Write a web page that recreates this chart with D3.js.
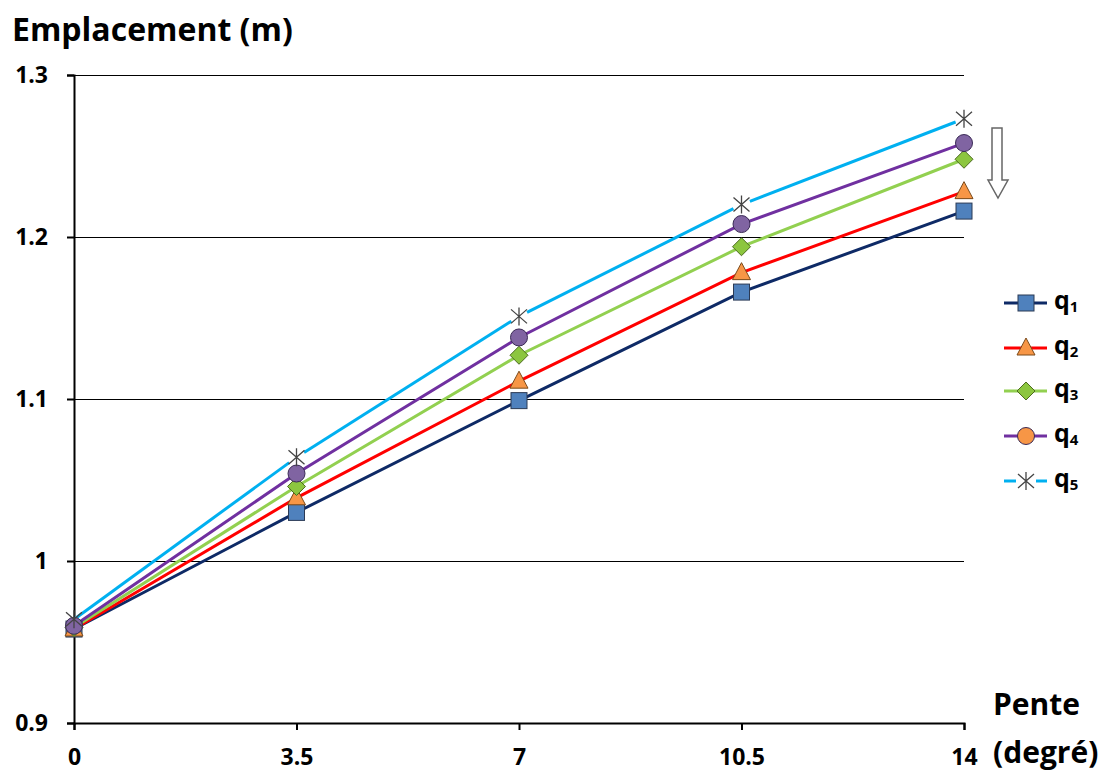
<!DOCTYPE html>
<html><head><meta charset="utf-8">
<script src="https://cdn.jsdelivr.net/npm/d3@7"></script>
<style>body{margin:0;background:#fff}svg{display:block}text{font-family:"Open Sans",Lato,sans-serif;font-weight:bold}</style>
</head><body>
<script>
const categories = [0, 3.5, 7, 10.5, 14];
const xTickLabels = ["0", "3.5", "7", "10.5", "14"];
const yTicks = [0.9, 1.0, 1.1, 1.2, 1.3];
const yTickLabels = ["0.9", "1", "1.1", "1.2", "1.3"];
const seriesNames = ["q1", "q2", "q3", "q4", "q5"];
const q1 = [0.958, 1.030, 1.099, 1.166, 1.216];
const q2 = [0.958, 1.039, 1.111, 1.178, 1.228];
const q3 = [0.959, 1.046, 1.127, 1.194, 1.248];
const q4 = [0.960, 1.054, 1.138, 1.208, 1.258];
const q5 = [0.964, 1.064, 1.151, 1.220, 1.273];
const seriesValues = [q1, q2, q3, q4, q5];

const lineColors = ["#0e2a66", "#ff0000", "#92d050", "#7030a0", "#00b0f0"];
const markerTypes = ["square", "triangle", "diamond", "circle", "star"];
const markerFills = ["#4f81bd", "#f79646", "#8cc63f", "#8064a2", "none"];
const legendFills = ["#4f81bd", "#f79646", "#8cc63f", "#f79646", "none"];

const W = 1108, H = 772;
const svg = d3.select("body").append("svg").attr("width", W).attr("height", H);
const x = d3.scaleLinear().domain([0, 14]).range([74, 964]);
const y = d3.scaleLinear().domain([0.9, 1.3]).range([723, 75]);

// gridlines
svg.append("g").selectAll("line").data(yTicks.slice(1)).join("line")
  .attr("x1", x(0)).attr("x2", x(14)).attr("y1", d => y(d) + 0.5).attr("y2", d => y(d) + 0.5)
  .attr("stroke", "#000").attr("stroke-width", 1).attr("shape-rendering", "crispEdges");

// y axis
const yAxis = svg.append("g").attr("transform", `translate(${x(0)},0)`)
  .call(d3.axisLeft(y).tickValues(yTicks).tickFormat((d, i) => yTickLabels[i]).tickSize(7).tickPadding(19));
yAxis.select(".domain").attr("stroke", "#000").attr("stroke-width", 2);
yAxis.selectAll(".tick line").attr("stroke-width", 2);
yAxis.selectAll("text").attr("font-size", 23).attr("font-family", "Open Sans").attr("font-weight", "bold").attr("fill", "#000");

// x axis
const xAxis = svg.append("g").attr("transform", `translate(0,${y(0.9)})`)
  .call(d3.axisBottom(x).tickValues(categories).tickFormat((d, i) => xTickLabels[i]).tickSize(7).tickPadding(19));
xAxis.select(".domain").attr("stroke", "#000").attr("stroke-width", 2);
xAxis.selectAll(".tick line").attr("stroke-width", 2);
xAxis.selectAll("text").attr("font-size", 23).attr("font-family", "Open Sans").attr("font-weight", "bold").attr("fill", "#000");

// titles
svg.append("text").attr("x", 12).attr("y", 41).attr("font-size", 32).text("Emplacement (m)");
svg.append("text").attr("x", 993).attr("y", 715).attr("font-size", 30).text("Pente");
svg.append("text").attr("x", 993).attr("y", 763).attr("font-size", 30).text("(degré)");

const line = d3.line().x((d, i) => x(categories[i])).y(d => y(d));

function drawMarker(g, type, cx, cy, fill) {
  if (type === "square") {
    g.append("rect").attr("x", cx - 8).attr("y", cy - 8).attr("width", 16).attr("height", 16)
      .attr("fill", fill).attr("stroke", "#2b3a55").attr("stroke-width", 1);
  } else if (type === "triangle") {
    g.append("path").attr("d", `M${cx},${cy - 10}L${cx + 9},${cy + 7}L${cx - 9},${cy + 7}Z`)
      .attr("fill", fill).attr("stroke", "#7a4a1a").attr("stroke-width", 1);
  } else if (type === "diamond") {
    g.append("path").attr("d", `M${cx},${cy - 9}L${cx + 9},${cy}L${cx},${cy + 9}L${cx - 9},${cy}Z`)
      .attr("fill", fill).attr("stroke", "#4c6b1f").attr("stroke-width", 1);
  } else if (type === "circle") {
    g.append("circle").attr("cx", cx).attr("cy", cy).attr("r", 8.5)
      .attr("fill", fill).attr("stroke", "#3a2a55").attr("stroke-width", 1);
  } else if (type === "star") {
    const r = 9;
    g.append("path").attr("d",
      `M${cx},${cy - r}L${cx},${cy + r}M${cx - 8},${cy - 7}L${cx + 8},${cy + 7}M${cx - 8},${cy + 7}L${cx + 8},${cy - 7}`)
      .attr("fill", "none").attr("stroke", "#444").attr("stroke-width", 1.3);
  }
}

// lines
const linesG = svg.append("g");
seriesValues.forEach((vals, s) => {
  if (markerTypes[s] === "star") {
    for (let i = 0; i < vals.length - 1; i++) {
      const x1 = x(categories[i]), y1 = y(vals[i]), x2 = x(categories[i + 1]), y2 = y(vals[i + 1]);
      const L = Math.hypot(x2 - x1, y2 - y1), t = 9 / L;
      linesG.append("line")
        .attr("x1", x1 + (x2 - x1) * (i === 0 ? 0.01 : t)).attr("y1", y1 + (y2 - y1) * (i === 0 ? 0.01 : t))
        .attr("x2", x2 - (x2 - x1) * t).attr("y2", y2 - (y2 - y1) * t)
        .attr("stroke", lineColors[s]).attr("stroke-width", 3);
    }
  } else {
    linesG.append("path").datum(vals).attr("d", line).attr("fill", "none")
      .attr("stroke", lineColors[s]).attr("stroke-width", 3);
  }
});

// markers
const markG = svg.append("g");
seriesValues.forEach((vals, s) => {
  vals.forEach((v, i) => drawMarker(markG, markerTypes[s], x(categories[i]), y(v), markerFills[s]));
});

// arrow
svg.append("path").attr("d", "M992,128L1002,128L1002,180L1008,180L998,198L988,180L992,180Z")
  .attr("fill", "#fff").attr("stroke", "#666").attr("stroke-width", 1.5);

// legend
const legendY = [303, 348, 391, 436, 481];
const lg = svg.append("g");
seriesNames.forEach((name, s) => {
  const ly = legendY[s];
  if (markerTypes[s] === "star") {
    lg.append("line").attr("x1", 1004).attr("x2", 1016).attr("y1", ly).attr("y2", ly).attr("stroke", lineColors[s]).attr("stroke-width", 3);
    lg.append("line").attr("x1", 1036).attr("x2", 1047).attr("y1", ly).attr("y2", ly).attr("stroke", lineColors[s]).attr("stroke-width", 3);
  } else {
    lg.append("line").attr("x1", 1004).attr("x2", 1047).attr("y1", ly).attr("y2", ly).attr("stroke", lineColors[s]).attr("stroke-width", 3);
  }
  drawMarker(lg, markerTypes[s], 1026, ly, legendFills[s]);
  const t = lg.append("text").attr("x", 1054).attr("y", ly + 6).attr("font-size", 25);
  t.append("tspan").text(name.charAt(0));
  t.append("tspan").attr("font-size", 15).attr("dy", 3).text(name.slice(1));
});
</script>
</body></html>
